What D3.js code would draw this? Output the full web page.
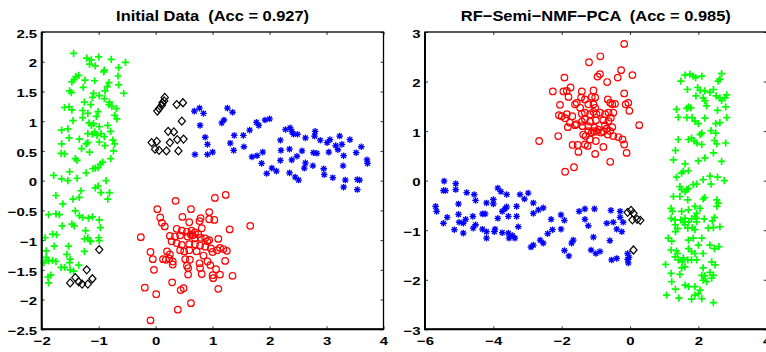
<!DOCTYPE html>
<html>
<head>
<meta charset="utf-8">
<script src="https://cdn.jsdelivr.net/npm/d3@7"></script>
<style>
body { margin: 0; background: #fff; }
text { font-family: "Liberation Sans", Arial, sans-serif; font-weight: bold; fill: #000; white-space: pre; }
</style>
</head>
<body>
<svg width="766" height="352"></svg>
<script>
// **** Data ****

// Initial Data panel
const initGreen = [
  [-1.44,2.14],[-1.21,2.06],[-1.13,2.03],[-1.00,2.08],[-0.78,2.04],[-0.53,1.99],[-1.16,1.96],[-1.06,1.93],
  [-0.90,1.86],[-0.65,1.90],[-0.91,1.83],[-1.35,1.77],[-1.40,1.75],[-1.43,1.70],[-1.47,1.66],[-0.66,1.76],
  [-1.24,1.69],[-1.07,1.68],[-1.27,1.57],[-0.82,1.65],[-0.85,1.58],[-0.65,1.61],[-0.56,1.47],[-1.51,1.51],
  [-1.48,1.48],[-1.09,1.47],[-1.11,1.40],[-0.99,1.43],[-0.89,1.51],[-0.90,1.38],[-0.81,1.32],[-1.25,1.32],
  [-1.14,1.28],[-0.82,1.28],[-0.77,1.25],[-1.52,1.24],[-1.60,1.23],[-1.47,1.19],[-1.28,1.18],[-1.19,1.13],
  [-1.01,1.16],[-0.69,1.21],[-0.68,1.04],[-0.72,1.10],[-1.45,1.01],[-1.65,0.85],[-1.54,0.87],[-1.28,1.06],
  [-1.04,1.08],[-1.13,0.93],[-1.17,0.97],[-1.09,0.96],[-0.99,0.91],[-0.84,0.93],[-1.07,0.82],[-1.11,0.78],
  [-1.19,0.79],[-1.03,0.76],[-1.52,0.72],[-1.34,0.70],[-0.96,0.79],[-0.90,0.74],[-0.79,0.83],[-0.75,0.68],
  [-0.72,0.62],[-0.99,0.65],[-0.89,0.59],[-0.74,0.50],[-1.19,0.64],[-1.22,0.62],[-1.30,0.54],[-1.16,0.48],
  [-1.65,0.62],[-1.60,0.45],[-1.66,0.46],[-1.41,0.37],[-1.38,0.34],[-0.79,0.37],[-0.93,0.31],[-0.97,0.28],
  [-1.06,0.21],[-1.10,0.20],[-1.22,0.13],[-1.51,0.15],[-1.01,0.22],[-1.79,0.09],[-1.65,0.03],[-1.54,0.00],
  [-1.38,0.04],[-1.06,-0.12],[-1.01,-0.09],[-0.87,0.00],[-0.96,-0.20],[-0.81,-0.20],[-1.31,-0.17],[-0.84,-0.31],
  [-1.45,-0.31],[-1.34,-0.28],[-1.63,-0.39],[-1.75,-0.25],[-1.75,-0.56],[-1.88,-0.57],[-1.69,-0.57],[-1.41,-0.51],
  [-1.34,-0.59],[-1.28,-0.62],[-1.18,-0.63],[-1.11,-0.61],[-1.47,-0.73],[-1.64,-0.76],[-1.43,-0.76],[-1.23,-0.84],
  [-1.19,-0.96],[-1.15,-1.01],[-0.99,-0.66],[-0.97,-0.79],[-1.00,-0.96],[-0.99,-1.01],[-1.81,-0.90],[-1.74,-0.91],
  [-1.94,-0.96],[-1.92,-1.18],[-1.78,-1.10],[-1.53,-1.10],[-1.56,-1.24],[-1.92,-1.29],[-1.96,-1.38],[-1.88,-1.35],
  [-1.81,-1.34],[-1.75,-1.36],[-1.50,-1.32],[-1.51,-1.38],[-1.66,-1.46],[-1.60,-1.46],[-1.50,-1.50],[-1.44,-1.52],
  [-1.35,-1.42],[-1.25,-0.98],[-1.25,-1.19],[-1.14,-1.02],[-1.89,-1.62],[-1.84,-1.59],[-1.88,-1.72]
];
const initRed = [
  [0.35,-0.34],[1.04,-0.29],[1.23,-0.24],[0.03,-0.48],[0.62,-0.48],[0.94,-0.53],[0.08,-0.62],[0.47,-0.61],
  [0.59,-0.70],[0.79,-0.63],[0.77,-0.68],[0.94,-0.65],[1.03,-0.66],[0.11,-0.71],[0.16,-0.77],[1.30,-0.82],
  [1.66,-0.76],[-0.26,-0.95],[0.37,-0.81],[0.46,-0.84],[0.55,-0.86],[0.63,-0.84],[0.69,-0.87],[0.81,-0.80],
  [0.25,-0.93],[0.34,-0.94],[0.43,-0.92],[0.56,-0.94],[0.65,-0.92],[0.75,-0.90],[0.87,-0.97],[0.94,-1.00],
  [1.10,-0.98],[0.37,-1.05],[0.46,-1.08],[0.59,-1.07],[0.69,-1.07],[0.78,-1.09],[0.87,-1.11],[0.97,-1.14],
  [1.13,-1.13],[1.19,-1.15],[1.25,-1.18],[-0.09,-1.20],[0.20,-1.19],[0.25,-1.24],[0.50,-1.19],[0.59,-1.17],
  [0.72,-1.19],[0.84,-1.26],[1.00,-1.20],[1.08,-1.17],[-0.05,-1.32],[0.13,-1.32],[0.18,-1.33],[0.24,-1.31],
  [0.30,-1.36],[0.52,-1.32],[0.60,-1.33],[0.77,-1.39],[0.91,-1.36],[0.96,-1.42],[1.22,-1.35],[-0.03,-1.50],
  [0.30,-1.41],[0.55,-1.43],[0.57,-1.47],[0.78,-1.47],[0.81,-1.57],[1.06,-1.49],[1.00,-1.59],[1.01,-1.64],
  [1.13,-1.58],[1.35,-1.60],[0.57,-1.58],[0.29,-1.71],[-0.19,-1.80],[0.01,-1.91],[0.44,-1.84],[0.49,-1.81],
  [1.10,-1.82],[0.62,-2.06],[0.39,-2.17],[-0.09,-2.35],[0.62,-0.91],[0.69,-0.97],[0.28,-1.02],[0.43,-1.17],
  [0.91,-1.02],[0.79,-0.96]
];
const initBlue = [
  [0.68,1.17],[0.77,1.22],[0.84,1.13],[0.78,0.93],[0.87,0.73],[0.91,0.61],[0.69,0.44],[0.91,0.44],
  [1.00,0.48],[1.26,1.22],[1.35,1.15],[1.20,1.02],[1.16,0.97],[1.38,0.76],[1.31,0.63],[1.37,0.51],
  [1.54,0.76],[1.65,0.85],[1.55,0.57],[1.77,0.98],[1.81,0.93],[1.92,1.02],[2.00,1.04],[1.69,0.40],
  [1.78,0.42],[1.88,0.48],[1.86,0.29],[1.95,0.12],[2.04,0.21],[2.12,0.16],[2.28,0.86],[2.36,0.89],
  [2.39,0.83],[2.42,0.78],[2.49,0.78],[2.63,0.72],[2.80,0.83],[2.79,0.75],[2.89,0.68],[3.01,0.64],
  [3.06,0.69],[3.23,0.75],[3.27,0.61],[3.41,0.69],[3.61,0.57],[3.52,0.47],[3.30,0.42],[3.20,0.52],
  [3.16,0.59],[3.04,0.48],[2.83,0.46],[2.77,0.47],[2.57,0.50],[2.48,0.41],[2.39,0.35],[2.35,0.53],
  [2.19,0.68],[2.20,0.51],[2.19,0.34],[2.63,0.30],[2.61,0.21],[2.76,0.25],[2.95,0.20],[2.96,0.10],
  [3.11,0.05],[3.29,0.25],[3.33,0.01],[3.30,-0.11],[3.54,0.02],[3.58,0.01],[3.54,-0.15],[3.71,0.35],
  [3.72,0.29],[2.35,0.13],[2.45,0.06],[2.51,0.01]
];
const initBlack = [
  [-0.99,-1.16],[-1.21,-1.50],[-1.11,-1.65],[-1.50,-1.72],[-1.41,-1.63],[-1.35,-1.70],[-1.29,-1.74],[-1.19,-1.74],
  [0.03,1.17],[0.06,1.21],[0.11,1.27],[0.15,1.34],[0.16,1.40],[0.12,1.31],[0.37,1.28],[0.48,1.31],
  [0.46,1.00],[0.22,0.83],[0.32,0.82],[0.38,0.69],[0.49,0.70],[0.02,0.66],[-0.07,0.64],[-0.01,0.53],
  [0.06,0.51],[0.19,0.50],[0.25,0.64],[0.40,0.50]
];

// RF-Semi-NMF-PCA panel
const finalRed = [
  [-0.17,2.76],[-0.87,2.51],[-1.20,2.39],[-0.26,2.23],[0.07,2.13],[-0.95,2.10],[-0.88,2.15],[-1.92,2.08],
  [-0.67,1.99],[-2.26,1.80],[-1.95,1.80],[-1.85,1.81],[-1.74,1.88],[-1.41,1.80],[-1.07,1.82],[-1.80,1.69],
  [-1.43,1.68],[-1.32,1.64],[-1.12,1.69],[-1.02,1.68],[-0.65,1.64],[-0.17,1.76],[-2.05,1.53],[-1.61,1.54],
  [-1.56,1.57],[-1.46,1.47],[-1.22,1.54],[-1.07,1.54],[-1.02,1.47],[-0.58,1.57],[-0.52,1.54],[-0.44,1.55],
  [-0.13,1.54],[-0.05,1.57],[-0.02,1.41],[-2.08,1.32],[-2.00,1.30],[-1.85,1.34],[-1.69,1.30],[-1.41,1.35],
  [-1.32,1.37],[-1.17,1.34],[-1.07,1.39],[-0.98,1.34],[-0.88,1.37],[-0.73,1.34],[-0.63,1.37],[-0.49,1.37],
  [-1.90,1.26],[-1.76,1.17],[-1.56,1.14],[-1.41,1.19],[-1.32,1.24],[-1.17,1.19],[-1.00,1.22],[-0.78,1.22],
  [-0.63,1.20],[-0.56,1.27],[-1.82,1.08],[-1.61,1.12],[-1.39,1.10],[-1.22,1.10],[-1.04,1.07],[-0.93,1.03],
  [-0.78,0.99],[-0.68,1.05],[-0.58,1.00],[-0.52,1.08],[-2.66,0.80],[-2.10,0.90],[-1.37,0.93],[-1.30,0.90],
  [-1.12,0.97],[-0.98,0.99],[-0.85,0.97],[-0.65,0.93],[-0.49,0.90],[-0.34,0.88],[-0.22,0.83],[-0.17,0.73],
  [-1.17,0.83],[-1.00,0.80],[-1.68,0.72],[-1.53,0.72],[-1.32,0.73],[-1.24,0.70],[-0.78,0.68],[-1.51,0.58],
  [-1.02,0.54],[-0.10,0.56],[-0.58,0.38],[-1.64,0.27],[-1.90,0.18],[0.27,1.12],[-0.36,2.08],[-1.07,1.00],
  [-1.22,1.00],[-0.73,1.12]
];
const finalBlue = [
  [-5.44,-0.01],[-5.46,-0.20],[-5.40,-0.20],[-5.10,-0.06],[-5.10,-0.18],[-4.78,-0.24],[-4.56,-0.28],[-4.52,-0.40],
  [-5.69,-0.52],[-5.66,-0.62],[-5.46,-0.86],[-5.35,-0.74],[-5.14,-0.99],[-5.02,-0.47],[-5.02,-0.68],[-5.00,-0.84],
  [-4.88,-0.86],[-4.88,-1.06],[-4.81,-0.78],[-4.59,-0.96],[-4.60,-0.72],[-4.52,-0.89],[-4.32,-0.67],[-4.24,-0.67],
  [-4.20,-0.45],[-4.00,-0.38],[-4.00,-0.47],[-4.32,-0.98],[-4.20,-1.03],[-4.20,-1.16],[-3.95,-0.98],[-3.97,-1.03],
  [-3.87,-0.15],[-3.78,-0.22],[-3.61,-0.28],[-3.74,-0.62],[-3.87,-0.76],[-3.66,-0.57],[-3.61,-0.53],[-3.74,-1.05],
  [-3.56,-0.72],[-3.56,-1.06],[-3.54,-1.16],[-3.37,-1.16],[-3.44,-1.11],[-3.32,-0.52],[-3.32,-0.72],[-3.27,-0.93],
  [-3.22,-0.28],[-3.09,-0.37],[-2.98,-0.25],[-2.83,-0.45],[-2.83,-0.66],[-2.68,-0.59],[-2.54,-0.55],[-2.90,-1.34],
  [-2.83,-1.30],[-2.63,-1.20],[-2.54,-1.26],[-2.41,-1.07],[-2.27,-0.99],[-2.31,-0.78],[-2.02,-0.69],[-1.92,-0.80],
  [-2.02,-0.98],[-1.92,-1.41],[-1.79,-1.52],[-1.71,-1.26],[-1.66,-1.20],[-1.49,-0.62],[-1.32,-0.57],[-1.32,-0.78],
  [-1.22,-0.91],[-1.04,-0.57],[-1.07,-1.14],[-1.14,-1.40],[-1.00,-1.47],[-0.88,-1.43],[-0.68,-0.86],[-0.56,-0.60],
  [-0.49,-0.84],[-0.59,-1.21],[-0.54,-1.60],[-0.39,-1.57],[-0.39,-0.98],[-0.24,-1.03],[-0.29,-0.74],[-0.29,-0.62],
  [-0.20,-0.84],[-0.07,-1.47],[-0.07,-1.59],[-0.05,-1.66],[-0.03,-1.55]
];
const finalGreen = [
  [1.61,2.13],[1.75,2.15],[1.85,2.11],[1.92,2.08],[2.10,2.11],[2.68,2.16],[1.49,2.01],[2.63,2.05],
  [2.58,2.01],[1.68,1.84],[1.98,1.88],[2.05,1.82],[2.19,1.81],[2.34,1.78],[2.44,1.84],[1.93,1.71],
  [2.14,1.67],[2.19,1.61],[2.52,1.71],[2.63,1.67],[2.78,1.67],[2.83,1.73],[2.68,1.62],[2.24,1.51],
  [1.36,1.44],[1.71,1.49],[1.66,1.46],[1.78,1.47],[2.56,1.42],[2.80,1.49],[1.41,1.28],[1.66,1.27],
  [1.82,1.27],[1.90,1.20],[2.00,1.15],[2.19,1.26],[2.83,1.27],[2.51,1.15],[2.63,1.17],[2.10,0.96],
  [2.05,0.93],[2.37,1.01],[2.51,0.96],[1.41,0.83],[1.71,0.83],[1.80,0.86],[1.88,0.80],[1.95,0.76],
  [2.10,0.73],[2.47,0.81],[2.54,0.74],[2.80,0.76],[1.33,0.61],[2.44,0.56],[1.27,0.42],[1.61,0.34],
  [2.00,0.40],[2.19,0.46],[2.68,0.39],[1.56,0.19],[1.51,0.15],[1.71,0.20],[1.36,0.07],[1.85,-0.08],
  [1.95,-0.07],[2.14,0.02],[2.34,0.09],[2.37,-0.07],[2.56,0.07],[2.76,0.00],[1.46,-0.12],[1.51,-0.18],
  [1.61,-0.22],[1.66,-0.18],[1.71,-0.16],[1.27,-0.32],[1.46,-0.32],[1.69,-0.39],[2.19,-0.34],[2.14,-0.37],
  [2.54,-0.39],[2.58,-0.45],[2.54,-0.52],[1.20,-0.56],[1.24,-0.62],[1.51,-0.62],[1.71,-0.59],[1.90,-0.52],
  [1.95,-0.66],[2.05,-0.56],[1.20,-0.76],[1.32,-0.79],[1.49,-0.79],[1.56,-0.83],[1.61,-0.76],[1.71,-0.83],
  [1.80,-0.77],[1.90,-0.72],[1.95,-0.76],[1.95,-0.83],[2.17,-0.77],[2.47,-0.74],[2.41,-0.81],[1.32,-0.89],
  [1.39,-0.97],[1.33,-1.03],[1.61,-0.89],[1.69,-0.96],[1.82,-0.95],[1.90,-0.99],[2.29,-0.96],[2.44,-0.95],
  [2.63,-0.93],[1.12,-1.16],[1.22,-1.22],[1.71,-1.20],[1.85,-1.16],[2.10,-1.16],[2.34,-1.30],[2.47,-1.37],
  [2.60,-1.33],[1.20,-1.40],[1.36,-1.42],[1.39,-1.47],[1.32,-1.54],[1.56,-1.56],[1.71,-1.37],[1.80,-1.43],
  [1.90,-1.47],[2.00,-1.30],[2.14,-1.47],[1.41,-1.60],[1.53,-1.64],[1.69,-1.60],[1.80,-1.60],[1.95,-1.60],
  [2.39,-1.64],[2.49,-1.70],[1.04,-1.69],[1.51,-1.76],[1.61,-1.74],[2.14,-1.76],[2.34,-1.85],[1.20,-1.87],
  [1.46,-1.89],[2.10,-1.91],[2.19,-1.92],[2.24,-2.04],[2.39,-1.97],[2.44,-1.91],[1.22,-2.04],[1.33,-2.19],
  [1.61,-2.11],[1.71,-2.14],[1.90,-2.14],[2.05,-2.21],[2.14,-2.01],[1.07,-2.31],[1.43,-2.37],[1.80,-2.39],
  [1.90,-2.31],[2.10,-2.38],[2.00,-2.28],[2.44,-2.46]
];
const finalBlack = [[0.03,-0.60],[-0.07,-0.64],[0.10,-0.66],[0.07,-0.79],[0.21,-0.78],[0.30,-0.80],[0.10,-1.40]];

// ticks and titles
const initXTicks = [-2, -1, 0, 1, 2, 3, 4];
const initYTicks = [-2.5, -2, -1.5, -1, -0.5, 0, 0.5, 1, 1.5, 2, 2.5];
const finalXTicks = [-6, -4, -2, 0, 2, 4];
const finalYTicks = [-3, -2, -1, 0, 1, 2, 3];
const titles = ['Initial Data  (Acc = 0.927)', 'RF\u2212Semi\u2212NMF\u2212PCA  (Acc = 0.985)'];

// **** Marker shapes (MATLAB style) ****

function plusPath(s) { return `M${-s},0H${s}M0,${-s}V${s}`; }
function starPath(s) {
  const d = s * 0.72;
  return `M${-s},0H${s}M0,${-s}V${s}M${-d},${-d}L${d},${d}M${-d},${d}L${d},${-d}`;
}
function diamondPath(w, h) { return `M0,${-h}L${w},0L0,${h}L${-w},0Z`; }

const svg = d3.select('svg');
const fmt = d => (d < 0 ? '\u2212' : '') + Math.abs(d);

function labelStyle(sel) {
  sel.attr('font-size', 11.5).attr('fill', '#000')
    .style('font-family', '"Liberation Sans", Arial, sans-serif').style('font-weight', 'bold');
}

function drawPanel(p) {
  const x = d3.scaleLinear().domain(p.xDomain).range(p.xRange);
  const y = d3.scaleLinear().domain(p.yDomain).range(p.yRange);
  const g = svg.append('g');

  // ticks, inward on all four sides
  const tickStyle = sel => {
    sel.select('.domain').remove();
    sel.selectAll('line').attr('stroke', '#000').attr('stroke-width', 0.8);
  };
  g.append('g').attr('transform', `translate(0,${p.yRange[0]})`)
    .call(d3.axisBottom(x).tickValues(p.xTicks).tickFormat(fmt).tickSizeInner(-3).tickPadding(7.5))
    .call(tickStyle)
    .selectAll('text').call(labelStyle).attr('transform', 'scale(1.3,1)');
  g.append('g').attr('transform', `translate(0,${p.yRange[1]})`)
    .call(d3.axisTop(x).tickValues(p.xTicks).tickFormat('').tickSizeInner(-3))
    .call(tickStyle);
  g.append('g').attr('transform', `translate(${p.xRange[0]},0)`)
    .call(d3.axisLeft(y).tickValues(p.yTicks).tickFormat(fmt).tickSizeInner(-3).tickPadding(3.5))
    .call(tickStyle)
    .selectAll('text').call(labelStyle).attr('y', 1.5).attr('transform', 'scale(1.3,1)');
  g.append('g').attr('transform', `translate(${p.xRange[1]},0)`)
    .call(d3.axisRight(y).tickValues(p.yTicks).tickFormat('').tickSizeInner(-3))
    .call(tickStyle);

  // the series
  const pts = g.append('g');
  p.series.forEach(s => {
    pts.selectAll(null).data(s.data).enter().append('path')
      .attr('transform', d => `translate(${x(d[0])},${y(d[1])})`)
      .attr('d', s.path)
      .attr('fill', 'none')
      .attr('stroke', s.color)
      .attr('stroke-width', s.width);
  });

  // box
  g.append('rect')
    .attr('x', p.xRange[0]).attr('y', p.yRange[1])
    .attr('width', p.xRange[1] - p.xRange[0]).attr('height', p.yRange[0] - p.yRange[1])
    .attr('fill', 'none').attr('stroke', '#000').attr('stroke-width', 1.3);
  g.append('path')
    .attr('d', `M${p.xRange[0]},${p.yRange[1]}V${p.yRange[0]}H${p.xRange[1]}`)
    .attr('fill', 'none').attr('stroke', '#000').attr('stroke-width', 2);

  // title
  g.append('text')
    .attr('x', (p.xRange[0] + p.xRange[1]) / 2).attr('y', 21)
    .attr('text-anchor', 'middle').attr('font-size', 15)
    .attr('textLength', p.titleWidth).attr('lengthAdjust', 'spacingAndGlyphs')
    .text(p.title);
}

const circlePath = d3.symbol(d3.symbolCircle, Math.PI * 3.3 * 3.3)();
const series = (green, red, blue, black) => [
  { data: green, path: plusPath(3.6), color: '#00ff00', width: 1.7 },
  { data: red, path: circlePath, color: '#ff0000', width: 1.2 },
  { data: blue, path: starPath(3.3), color: '#0000ff', width: 1.3 },
  { data: black, path: diamondPath(3.6, 4), color: '#000000', width: 1.2 }
];

drawPanel({
  xDomain: [-2, 4], yDomain: [-2.5, 2.5], xRange: [41.7, 383.5], yRange: [329.3, 32],
  xTicks: initXTicks, yTicks: initYTicks, title: titles[0], titleWidth: 193,
  series: series(initGreen, initRed, initBlue, initBlack)
});
drawPanel({
  xDomain: [-6, 4], yDomain: [-3, 3], xRange: [425, 766.7], yRange: [329.3, 32],
  xTicks: finalXTicks, yTicks: finalYTicks, title: titles[1], titleWidth: 270,
  series: series(finalGreen, finalRed, finalBlue, finalBlack)
});
</script>
</body>
</html>
